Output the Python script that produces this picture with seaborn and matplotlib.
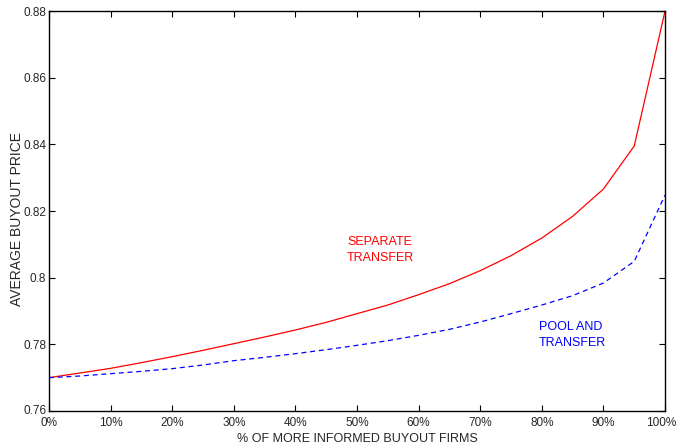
import numpy as np
import pandas as pd
import matplotlib
matplotlib.use('Agg')
import matplotlib.pyplot as plt
import matplotlib.transforms as mtransforms
import seaborn as sns
from matplotlib.ticker import FuncFormatter

# share of more informed buyout firms (%)
pct_informed = [0, 5, 10, 15, 20, 25, 30, 35, 40, 45, 50,
                55, 60, 65, 70, 75, 80, 85, 90, 95, 100]

# average buyout price
separate_transfer = [0.7700, 0.7714, 0.7728, 0.7745, 0.7763, 0.7782, 0.7802,
                     0.7822, 0.7843, 0.7866, 0.7892, 0.7918, 0.7949, 0.7982,
                     0.8021, 0.8066, 0.8119, 0.8184, 0.8266, 0.8395, 0.8800]
pool_and_transfer = [0.7700, 0.7705, 0.7712, 0.7719, 0.7727, 0.7738, 0.7751,
                     0.7761, 0.7772, 0.7784, 0.7797, 0.7811, 0.7827, 0.7845,
                     0.7867, 0.7892, 0.7918, 0.7946, 0.7984, 0.8049, 0.8248]

x_ticks = [0, 10, 20, 30, 40, 50, 60, 70, 80, 90, 100]
y_ticks = [0.76, 0.78, 0.80, 0.82, 0.84, 0.86, 0.88]

sns.set_style('white')
plt.rcParams['font.family'] = ['Liberation Sans', 'DejaVu Sans']
plt.rcParams['xtick.direction'] = 'in'
plt.rcParams['ytick.direction'] = 'in'

df = pd.DataFrame({
    'pct': pct_informed * 2,
    'price': separate_transfer + pool_and_transfer,
    'scheme': ['separate'] * len(pct_informed) + ['pool'] * len(pct_informed),
})

fig = plt.figure(figsize=(6.8, 4.44), dpi=100)
ax = fig.add_axes([0.072, 0.0743, 0.906, 0.9009])

sns.lineplot(data=df, x='pct', y='price', hue='scheme', style='scheme',
             palette={'separate': '#ff0000', 'pool': '#0000ff'},
             dashes={'separate': '', 'pool': (4, 3)},
             linewidth=0.9, legend=False, ax=ax)

ax.set_xlim(0, 100)
ax.set_ylim(0.76, 0.88)
ax.set_xticks(x_ticks)
ax.set_yticks(y_ticks)
ax.xaxis.set_major_formatter(FuncFormatter(lambda v, p: f'{v:.0f}%'))
ax.yaxis.set_major_formatter(FuncFormatter(lambda v, p: f'{v:g}'))
ax.tick_params(axis='both', which='both', direction='in', length=4,
               width=0.8, color='black', labelsize=8.5, pad=2,
               top=True, right=True, bottom=True, left=True)
ax.tick_params(axis='x', pad=4)

for spine in ax.spines.values():
    spine.set_visible(True)
    spine.set_color('black')
    spine.set_linewidth(1.0)

# nudge the corner labels like the original
fig.canvas.draw()
xlabels = ax.get_xticklabels()
xlabels[-1].set_transform(xlabels[-1].get_transform() +
                          mtransforms.ScaledTranslation(-4 / 100, 0, fig.dpi_scale_trans))
ylabels = ax.get_yticklabels()
ylabels[0].set_transform(ylabels[0].get_transform() +
                         mtransforms.ScaledTranslation(0, 2 / 100, fig.dpi_scale_trans))

ax.set_xlabel('% OF MORE INFORMED BUYOUT FIRMS', fontsize=9, labelpad=3)
ax.set_ylabel('AVERAGE BUYOUT PRICE', fontsize=10)
ax.yaxis.set_label_coords(-0.041, 0.48)

ax.text(48.4, 0.8126, 'SEPARATE\nTRANSFER', color='#ff0000', fontsize=9,
        ha='left', va='top', linespacing=1.45)
ax.text(79.5, 0.7869, 'POOL AND\nTRANSFER', color='#0000ff', fontsize=9,
        ha='left', va='top', linespacing=1.45)

fig.savefig('out.png', dpi=100)
